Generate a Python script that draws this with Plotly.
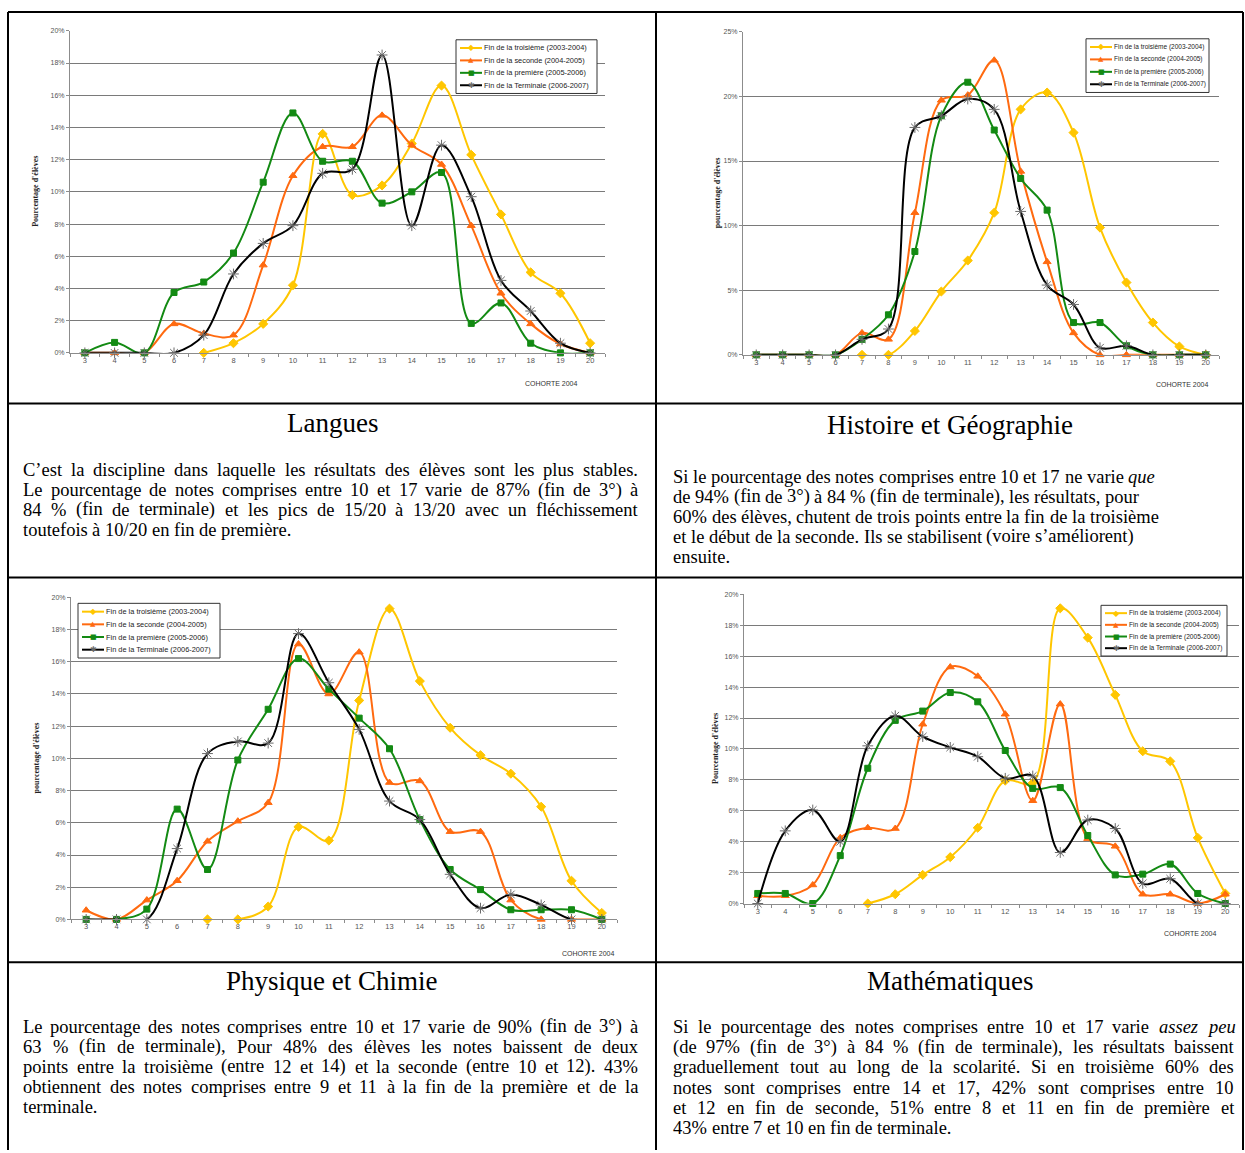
import re
import plotly.graph_objects as go

W, H = 1245, 1153

def fx(px):
    return px / W

def fy(py):
    return 1 - py / H

# ---------------- DATA ----------------
notes = list(range(3, 21))
note_labels = [str(n) for n in notes]

series_names = [
    "Fin de la troisième (2003-2004)",
    "Fin de la seconde (2004-2005)",
    "Fin de la première (2005-2006)",
    "Fin de la Terminale (2006-2007)",
]

# Langues
langues_troisieme = [None, None, None, None, 0, 0.6, 1.8, 4.2, 13.6, 9.8, 10.4, 13.0, 16.6, 12.3, 8.6, 5.0, 3.7, 0.6]
langues_seconde = [0, 0, 0, 1.8, 1.2, 1.1, 5.45, 11.0, 12.8, 12.8, 14.75, 12.9, 11.7, 7.9, 3.7, 1.8, 0.55, 0]
langues_premiere = [0, 0.65, 0, 3.75, 4.4, 6.2, 10.6, 14.9, 11.9, 11.9, 9.3, 10.0, 11.2, 1.83, 3.1, 0.6, 0, 0]
langues_terminale = [0, 0, 0, 0, 1.1, 4.9, 6.8, 7.9, 11.15, 11.4, 18.5, 7.9, 12.9, 9.7, 4.5, 2.6, 0.6, 0]

# Histoire et Géographie
histoire_troisieme = [None, None, None, None, 0, 0, 1.85, 4.9, 7.3, 11.0, 19.0, 20.3, 17.2, 9.85, 5.6, 2.5, 0.65, 0]
histoire_seconde = [0, 0, 0, 0, 1.7, 1.2, 11.0, 19.7, 20.1, 22.8, 14.2, 7.2, 1.7, 0, 0, 0, 0, 0]
histoire_premiere = [0, 0, 0, 0, 1.2, 3.1, 8.0, 18.5, 21.1, 17.4, 13.65, 11.2, 2.5, 2.5, 0.7, 0, 0, 0]
histoire_terminale = [0, 0, 0, 0, 1.2, 2.0, 17.6, 18.5, 19.8, 19.0, 11.1, 5.4, 3.9, 0.55, 0.7, 0, 0, 0]

# Physique et Chimie
physique_troisieme = [None, None, None, None, 0, 0, 0.8, 5.75, 4.9, 13.6, 19.3, 14.8, 11.9, 10.2, 9.05, 7.0, 2.4, 0.4]
physique_seconde = [0.57, 0, 1.2, 2.4, 4.85, 6.1, 7.25, 17.1, 14.0, 16.6, 8.5, 8.6, 5.45, 5.45, 1.2, 0, 0, 0]
physique_premiere = [0, 0, 0.64, 6.85, 3.1, 9.9, 13.05, 16.2, 14.3, 12.5, 10.6, 6.2, 3.1, 1.85, 0.6, 0.6, 0.6, 0]
physique_terminale = [0, 0, 0, 4.4, 10.3, 11.05, 10.95, 17.75, 14.7, 11.8, 7.35, 6.2, 2.8, 0.7, 1.55, 0.9, 0, 0]

# Mathématiques
maths_troisieme = [None, None, None, None, 0, 0.6, 1.85, 3.0, 4.9, 7.95, 7.8, 19.1, 17.2, 13.5, 9.85, 9.2, 4.25, 0.65]
maths_seconde = [0.5, 0.5, 1.2, 4.25, 4.9, 4.85, 11.6, 15.3, 14.7, 12.25, 6.65, 12.9, 4.2, 3.7, 0.6, 0.6, 0, 0.6]
maths_premiere = [0.65, 0.65, 0, 3.1, 8.75, 11.85, 12.45, 13.65, 13.05, 9.9, 7.45, 7.5, 4.4, 1.85, 1.9, 2.55, 0.65, 0]
maths_terminale = [0, 4.7, 6.05, 4.0, 10.2, 12.15, 10.8, 10.1, 9.5, 8.1, 8.25, 3.3, 5.4, 4.85, 1.3, 1.6, 0, 0]

# Text cells
titles = ["Langues", "Histoire et Géographie", "Physique et Chimie", "Mathématiques"]

text_langues = [
    "C’est la discipline dans laquelle les résultats des élèves sont les plus stables.",
    "Le pourcentage de notes comprises entre 10 et 17 varie de 87% (fin de 3°) à",
    "84 % (fin de terminale) et les pics de 15/20 à 13/20 avec un fléchissement",
    "toutefois à 10/20 en fin de première.",
]
text_histoire = [
    "Si le pourcentage des notes comprises entre 10 et 17 ne varie <i>que</i>",
    "de 94%  (fin de 3°) à 84 % (fin de terminale), les résultats, pour",
    "60% des élèves, chutent de trois points entre la fin de la troisième",
    "et le début de la seconde. Ils se stabilisent (voire s’améliorent)",
    "ensuite.",
]
text_physique = [
    "Le pourcentage des notes comprises entre 10 et 17 varie de 90%  (fin de 3°) à",
    "63 % (fin de terminale), Pour  48% des élèves les notes baissent de deux",
    "points entre la troisième (entre 12 et 14) et la seconde (entre 10 et 12). 43%",
    "obtiennent des notes comprises entre 9 et 11 à la fin de la première et de la",
    "terminale.",
]
text_maths = [
    "Si le pourcentage des notes comprises entre 10 et 17 varie <i>assez peu</i>",
    "(de 97%  (fin de 3°) à 84 % (fin de terminale), les résultats baissent",
    "graduellement tout au long de la scolarité. Si en troisième 60% des",
    "notes sont comprises entre 14 et 17, 42% sont comprises entre 10",
    "et 12 en fin de seconde, 51% entre 8 et 11 en fin de première et",
    "43% entre 7 et 10 en fin de terminale.",
]

# ---------------- STYLE ----------------
line_colors = ["#FFC600", "#FF6A10", "#138A13", "#000000"]
marker_symbols = ["diamond", "triangle-up", "square", "asterisk-open"]
marker_colors = ["#FFC600", "#FF6A10", "#138A13", "#6a6a6a"]
marker_sizes = [7, 7, 6, 9]
legend_glyphs = ["◆", "▲", "■", "✱"]
legend_glyph_sizes = [8, 7, 7, 8]

panels = [
    dict(data=[langues_troisieme, langues_seconde, langues_premiere, langues_terminale],
         xdom=(70, 605), ydom=(27, 351), ymax=20, dtick=2,
         ytitle="Pourcentage d'élèves", ytitle_x=36,
         legend=(456, 36, 141, 54), legfont=7.4, cohorte=(551, 382)),
    dict(data=[histoire_troisieme, histoire_seconde, histoire_premiere, histoire_terminale],
         xdom=(743, 1219), ydom=(28, 353), ymax=25, dtick=5,
         ytitle="pourcentage d'élèves", ytitle_x=717,
         legend=(1086, 35, 123, 54), legfont=6.5, cohorte=(1182, 383)),
    dict(data=[physique_troisieme, physique_seconde, physique_premiere, physique_terminale],
         xdom=(71, 617), ydom=(597, 921), ymax=20, dtick=2,
         ytitle="pourcentage d'élèves", ytitle_x=36,
         legend=(78, 603, 142, 55), legfont=7.4, cohorte=(588, 955)),
    dict(data=[maths_troisieme, maths_seconde, maths_premiere, maths_terminale],
         xdom=(744, 1239), ydom=(594, 905), ymax=20, dtick=2,
         ytitle="Pourcentage d'élèves", ytitle_x=716,
         legend=(1101, 605, 126, 51), legfont=6.6, cohorte=(1190, 935)),
]

fig = go.Figure()
annotations = []
shapes = []
layout_axes = {}

for i, p in enumerate(panels, start=1):
    sfx = "" if i == 1 else str(i)
    for k in range(4):
        fig.add_trace(go.Scatter(
            x=notes, y=p["data"][k], name=series_names[k],
            mode="lines+markers", showlegend=False,
            line=dict(color=line_colors[k], width=2, shape="spline", smoothing=1.0),
            marker=dict(symbol=marker_symbols[k], size=marker_sizes[k], color=marker_colors[k],
                        line=dict(color=marker_colors[k], width=1)),
            xaxis="x" + sfx, yaxis="y" + sfx,
            cliponaxis=False, connectgaps=False,
        ))
    layout_axes["xaxis" + sfx] = dict(
        domain=[fx(p["xdom"][0]), fx(p["xdom"][1])], anchor="y" + sfx,
        range=[2.5, 20.5], tickmode="array", tickvals=notes, ticktext=note_labels,
        showgrid=False, zeroline=False, showline=True, linecolor="#8c8c8c", linewidth=1,
        ticks="", tickfont=dict(size=7.5, color="#555555", family="Liberation Sans"),
        minor=dict(tickmode="array", tickvals=[n + 0.5 for n in [2] + notes], ticks="outside",
                   ticklen=3, tickcolor="#8c8c8c", showgrid=False),
        fixedrange=True,
    )
    layout_axes["yaxis" + sfx] = dict(
        domain=[fy(p["ydom"][1]), fy(p["ydom"][0])], anchor="x" + sfx,
        range=[0, p["ymax"]], dtick=p["dtick"], tick0=0, ticksuffix="%",
        showgrid=True, gridcolor="#7a7a7a", gridwidth=1.3, zeroline=False,
        showline=True, linecolor="#8c8c8c", linewidth=1,
        ticks="outside", ticklen=3, tickcolor="#8c8c8c",
        tickfont=dict(size=7, color="#555555", family="Liberation Sans"),
        fixedrange=True,
    )
    # compact Excel-like legend box
    lx, ly, lw, lh = p["legend"]
    shapes.append(dict(type="rect", xref="paper", yref="paper",
                       x0=fx(lx), x1=fx(lx + lw), y0=fy(ly + lh), y1=fy(ly),
                       line=dict(color="#333333", width=1), fillcolor="white", layer="above"))
    row_h = (lh - 4) / 4.0
    for k in range(4):
        cy = ly + 2 + row_h * (k + 0.5)
        shapes.append(dict(type="line", xref="paper", yref="paper",
                           x0=fx(lx + 4), x1=fx(lx + 26), y0=fy(cy), y1=fy(cy),
                           line=dict(color=line_colors[k], width=2), layer="above"))
        annotations.append(dict(x=fx(lx + 15), y=fy(cy), xref="paper", yref="paper",
                                text=legend_glyphs[k], showarrow=False,
                                font=dict(size=legend_glyph_sizes[k], color=marker_colors[k],
                                          family="DejaVu Sans"),
                                xanchor="center", yanchor="middle"))
        annotations.append(dict(x=fx(lx + 26), y=fy(cy), xref="paper", yref="paper",
                                text=series_names[k], showarrow=False,
                                font=dict(size=p["legfont"], color="#222222", family="Liberation Sans"),
                                xanchor="left", yanchor="middle"))
    annotations.append(dict(
        x=fx(p["ytitle_x"]), y=fy((p["ydom"][0] + p["ydom"][1]) / 2), xref="paper", yref="paper",
        text="<b>" + p["ytitle"] + "</b>", textangle=-90, showarrow=False,
        font=dict(size=8, family="Liberation Serif", color="#222222"),
        xanchor="center", yanchor="middle",
    ))
    annotations.append(dict(
        x=fx(p["cohorte"][0]), y=fy(p["cohorte"][1]), xref="paper", yref="paper",
        text="COHORTE 2004", showarrow=False,
        font=dict(size=7, family="Liberation Sans", color="#333333"),
        xanchor="center", yanchor="middle",
    ))

# ---------------- TEXT CELLS ----------------
title_pos = [(332, 422), (950, 424), (332, 983), (950, 983)]
for t, (x, y) in zip(titles, title_pos):
    annotations.append(dict(x=fx(x), y=fy(y), xref="paper", yref="paper", text=t, showarrow=False,
                            font=dict(size=27, family="Liberation Serif", color="black"),
                            xanchor="center", yanchor="middle"))

# Times / Liberation Serif advance widths (1/1000 em) used to justify lines like the source
TW = {" ": 250, "%": 833, "(": 333, ")": 333, ",": 250, ".": 250, "/": 278, "°": 400, "’": 333,
      "'": 180, ":": 278, ";": 278, "-": 333}
for c in "0123456789":
    TW[c] = 500
TW.update(dict(zip("abcdefghijklmnopqrstuvwxyz",
                   [444, 500, 444, 500, 444, 333, 500, 500, 278, 278, 500, 278, 778, 500, 500, 500,
                    500, 333, 389, 278, 500, 500, 722, 500, 500, 444])))
TW.update(dict(zip("ABCDEFGHIJKLMNOPQRSTUVWXYZ",
                   [722, 667, 667, 722, 611, 556, 722, 722, 333, 389, 722, 611, 889, 722, 722, 556,
                    722, 667, 556, 611, 722, 722, 944, 722, 722, 611])))
ACC = {"é": "e", "è": "e", "ê": "e", "à": "a", "â": "a", "ç": "c", "ô": "o", "î": "i", "ù": "u", "û": "u"}

BODY_SIZE = 18.5

def text_w(s, size):
    s = re.sub(r"</?i>", "", s)
    return sum(TW.get(ACC.get(c, c), 500) for c in s) / 1000.0 * size

def place_line(line, x0, y, width, justify):
    line = line.replace("<i>assez peu</i>", "<i>assez</i> <i>peu</i>")
    words = line.split()
    ws = [text_w(w, BODY_SIZE) for w in words]
    if justify and len(words) > 1:
        gap = (width - sum(ws)) / (len(words) - 1)
    else:
        gap = TW[" "] / 1000.0 * BODY_SIZE
    x = x0
    for w, wdt in zip(words, ws):
        annotations.append(dict(x=fx(x), y=fy(y), xref="paper", yref="paper", text=w,
                                showarrow=False, xanchor="left", yanchor="middle",
                                borderpad=0,
                                font=dict(size=BODY_SIZE, family="Liberation Serif", color="black")))
        x += wdt + gap

blocks = [
    (text_langues, 22, 637, 469, 20, [True, True, True, False]),
    (text_histoire, 672, 1236, 476, 20, [False] * 5),
    (text_physique, 22, 637, 1029, 20.2, [True, True, True, True, False]),
    (text_maths, 672, 1233, 1029, 20.4, [True, True, True, True, True, False]),
]
for lines, x0, x1, y0, dy, just in blocks:
    for j, ln in enumerate(lines):
        place_line(ln, x0, y0 + j * dy, x1 - x0, just[j])

# ---------------- TABLE BORDERS ----------------
def vline(x, y0, y1):
    shapes.append(dict(type="line", xref="paper", yref="paper", x0=fx(x), x1=fx(x), y0=fy(y0), y1=fy(y1),
                       line=dict(color="black", width=2)))

def hline(y, x0, x1):
    shapes.append(dict(type="line", xref="paper", yref="paper", x0=fx(x0), x1=fx(x1), y0=fy(y), y1=fy(y),
                       line=dict(color="black", width=2)))

vline(8, 8, 1153)
vline(656, 8, 1153)
vline(1243, 8, 1153)
for yy in (8, 402, 577, 964):
    hline(yy, 8, 1243)

fig.update_layout(
    width=W, height=H, autosize=False,
    margin=dict(l=0, r=0, t=0, b=0),
    paper_bgcolor="white", plot_bgcolor="white",
    showlegend=False,
    annotations=annotations, shapes=shapes,
    **layout_axes,
)

fig.write_html("out.html", config={"displayModeBar": False},
               post_script="document.body.style.margin='0';document.body.style.overflow='hidden';")
